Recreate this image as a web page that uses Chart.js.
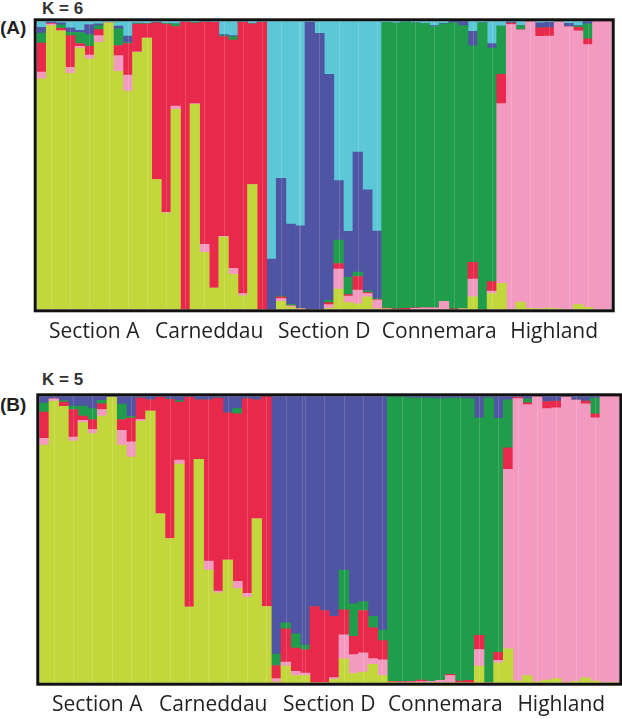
<!DOCTYPE html>
<html>
<head>
<meta charset="utf-8">
<script src="https://cdn.jsdelivr.net/npm/chart.js@4.4.1/dist/chart.umd.min.js"></script>
<style>
  body { margin: 0; width: 622px; height: 719px; background: #fff; position: relative; overflow: hidden;
         font-family: 'Liberation Sans', Arial, sans-serif; color: #231f20; }
  canvas { position: absolute; left: 0; }
  .k { position: absolute; left: 42px; font-weight: bold; font-size: 17px; line-height: 17px; color: #333; }
  .panel { position: absolute; left: 0; font-weight: bold; font-size: 19px; line-height: 19px; }
</style>
</head>
<body>
<div class="k" style="top:0px">K = 6</div>
<div class="panel" style="top:18px">(A)</div>
<canvas id="chartA" width="622" height="350" style="top:0px"></canvas>

<div class="k" style="top:371px">K = 5</div>
<div class="panel" style="top:395px">(B)</div>
<canvas id="chartB" width="622" height="357" style="top:366px"></canvas>

<script>
'use strict';
// breeds, 12 horses each
const breeds = ['Section A', 'Carneddau', 'Section D', 'Connemara', 'Highland'];
const perBreed = 12;
let individuals = [];
for (let i = 0; i < breeds.length * perBreed; i++) {
  individuals.push(String(i + 1));
}

// K = 6 membership proportions (bottom to top: yellow, pink, red, green, blue, cyan)
const a6Yellow = [.800,.985,.967,.819,.907,.869,.927,.995,.826,.758,.892,.942,
  .450,.334,.694,0,.712,.198,.074,.251,.121,.047,.433,0,
  0,.028,.008,.002,0,0,.003,.070,.023,.019,.043,.002,
  .002,0,0,0,0,0,0,0,.002,.043,0,.055,
  .090,0,.025,.003,.002,.004,.002,0,.016,.007,0,0];
const a6Pink = [.024,.005,0,.021,.006,.014,.023,0,.055,.055,.002,0,
  0,.003,.012,0,.002,.028,0,.002,.021,.008,0,0,
  0,.009,.004,0,0,0,.013,.070,.023,.048,.012,.030,
  0,0,0,.003,.005,.005,.028,0,0,.062,0,.008,
  .624,.989,.945,.997,.946,.945,.995,.981,.951,.912,1,1];
const a6Red = [.100,.003,.009,.110,.010,.030,.021,0,.035,.110,.096,.049,
  .545,.653,.276,.997,.280,.771,.922,.694,.793,.942,.558,.997,
  0,.006,0,.001,0,0,.007,.019,.005,.047,.003,.002,
  .002,.002,.003,.002,0,0,0,.002,0,.058,0,.033,
  .102,.005,0,0,.029,.029,0,0,.012,.020,0,0];
const a6Green = [.035,0,.012,.012,.038,.041,.014,0,.058,.003,.003,.002,
  0,.003,.009,0,.002,0,0,.003,.012,0,0,0,
  0,.003,.005,0,0,0,.008,.081,.060,.015,.006,.003,
  .992,.992,.994,.990,.988,.977,.963,.993,.983,.752,.995,.811,
  .167,0,.015,0,0,0,0,0,.004,.052,0,0];
const a6Blue = [.020,.004,.007,.015,.008,.035,.006,0,.009,.023,.001,0,
  .002,0,0,0,0,0,.001,.004,.003,0,0,0,
  .174,.409,.279,.287,.997,.958,.785,.207,.160,.417,.351,.235,
  0,0,0,0,0,.003,.002,.005,.015,.050,0,.016,
  0,.004,0,0,.018,.018,0,.012,.002,.009,0,0];
const a6Cyan = [.021,.003,.005,.023,.031,.011,.009,.005,.017,.051,.006,.007,
  .003,.007,.009,.003,.004,.003,.003,.046,.050,.003,.009,.003,
  .826,.545,.704,.710,.003,.042,.184,.553,.729,.454,.585,.728,
  .004,.006,.003,.005,.007,.015,.007,0,0,.035,.005,.077,
  .017,.002,.015,0,.005,.004,.003,.007,.015,0,0,0];

// K = 5 membership proportions (bottom to top: yellow, pink, red, green, blue)
const b5Yellow = [.830,.983,.965,.844,.908,.870,.931,.997,.830,.788,.913,.948,
  .590,.503,.763,.264,.780,.393,.314,.428,.329,.298,.572,.266,
  .002,.058,.025,.025,0,0,.012,.083,.032,.037,.064,.025,
  .002,0,0,0,0,0,0,0,0,.058,0,.069,
  .118,.006,.025,.003,.009,.014,0,.005,.017,.006,0,0];
const b5Pink = [.023,.008,0,.014,.008,.014,.023,0,.051,.053,.006,0,
  0,0,.014,0,0,.032,.006,0,.025,.014,0,0,
  .012,.014,.015,.009,0,0,.006,.084,.066,.067,.020,.055,
  0,.002,.003,.004,.005,.008,.025,0,0,.058,0,.009,
  .627,.986,.946,.997,.948,.946,.997,.982,.957,.919,1,1];
const b5Red = [.092,0,.015,.096,.015,.035,.020,0,.038,.083,.075,.040,
  .407,.486,.203,.733,.208,.563,.674,.514,.585,.680,.416,.734,
  .046,.116,.081,.081,.266,.252,.214,.087,.064,.148,.108,.067,
  .003,.002,.002,.005,0,0,.004,.006,.008,.049,0,.028,
  .075,.004,.006,0,.025,.023,0,0,.009,.014,0,0];
const b5Green = [.031,0,.005,.012,.035,.038,.012,0,.054,.006,0,0,
  0,.002,.005,0,0,0,0,0,.018,0,0,0,
  .040,.021,.050,.016,0,0,0,.139,.113,.031,.040,.037,
  .995,.994,.990,.985,.989,.984,.965,.988,.984,.760,.995,.817,
  .168,0,.014,0,0,0,0,0,0,.055,0,0];
const b5Blue = [.024,.009,.015,.034,.034,.043,.014,.003,.027,.070,.006,.012,
  .003,.009,.015,.003,.012,.012,.006,.058,.043,.008,.012,0,
  .900,.791,.829,.869,.734,.748,.768,.607,.725,.717,.768,.816,
  0,.002,.005,.006,.006,.008,.006,.006,.008,.075,.005,.077,
  .012,.004,.009,0,.018,.017,.003,.013,.017,.006,0,0];

const yellow = '#c1d73b';
const pink = '#f39ac1';
const red = '#e9294b';
const green = '#1f9d4b';
const blue = '#4f54a3';
const cyan = '#5cc7d7';

// thick black box round the plot
const framePlugin = {
  id: 'frame',
  afterDraw(chart) {
    let a = chart.chartArea;
    let ctx = chart.ctx;
    ctx.save();
    ctx.lineWidth = 3;
    ctx.strokeStyle = '#111';
    ctx.strokeRect(a.left - 1.5, a.top - 1.5, a.right - a.left + 3, a.bottom - a.top + 3);
    ctx.restore();
  }
};

// faint light lines between individuals
const separatorPlugin = {
  id: 'separators',
  afterDatasetsDraw(chart) {
    let x = chart.scales.x;
    let a = chart.chartArea;
    let ctx = chart.ctx;
    ctx.save();
    ctx.strokeStyle = 'rgba(255,255,255,0.16)';
    ctx.lineWidth = 1;
    for (let i = 1; i < individuals.length; i++) {
      let px = Math.round((x.getPixelForTick(i - 1) + x.getPixelForTick(i)) / 2) + 0.5;
      ctx.beginPath();
      ctx.moveTo(px, a.top);
      ctx.lineTo(px, a.bottom);
      ctx.stroke();
    }
    ctx.restore();
  }
};

function makeDataset(name, values, colour) {
  return {
    label: name,
    data: values,
    backgroundColor: colour,
    borderWidth: 0,
    barPercentage: 1,
    categoryPercentage: 1
  };
}

function drawPanel(canvasId, datasets, pad) {
  let ctx = document.getElementById(canvasId);
  return new Chart(ctx, {
    type: 'bar',
    data: { labels: individuals, datasets: datasets },
    plugins: [separatorPlugin, framePlugin],
    options: {
      responsive: false,
      animation: false,
      layout: { padding: pad },
      plugins: { legend: { display: false }, tooltip: { enabled: false } },
      scales: {
        x: { type: 'category', stacked: true, offset: true, display: false },
        y: { stacked: true, min: 0, max: 1, display: false },
        // breed names, written under the middle of each block of 12
        groups: {
          type: 'category',
          labels: individuals,
          position: 'bottom',
          offset: true,
          grid: { display: false, drawTicks: false },
          border: { display: false },
          afterFit(axis) {
            axis.height = 40;
            axis.paddingLeft = 0;
            axis.paddingRight = 0;
          },
          ticks: {
            autoSkip: false,
            maxRotation: 0,
            padding: 10,
            labelOffset: 4.8,
            color: '#231f20',
            font: { family: 'Open Sans', size: 21 },
            callback: (v, i) => (i % perBreed === perBreed / 2 - 1 ? breeds[Math.floor(i / perBreed)] : '')
          }
        }
      }
    }
  });
}

drawPanel('chartA', [
  makeDataset('yellow', a6Yellow, yellow),
  makeDataset('pink', a6Pink, pink),
  makeDataset('red', a6Red, red),
  makeDataset('green', a6Green, green),
  makeDataset('blue', a6Blue, blue),
  makeDataset('cyan', a6Cyan, cyan)
], { left: 36.7, right: 10.3, top: 21.3, bottom: 0.7 });

drawPanel('chartB', [
  makeDataset('yellow', b5Yellow, yellow),
  makeDataset('pink', b5Pink, pink),
  makeDataset('red', b5Red, red),
  makeDataset('green', b5Green, green),
  makeDataset('blue', b5Blue, blue)
], { left: 39.3, right: 2.7, top: 30.3, bottom: 0.3 });
</script>
</body>
</html>
